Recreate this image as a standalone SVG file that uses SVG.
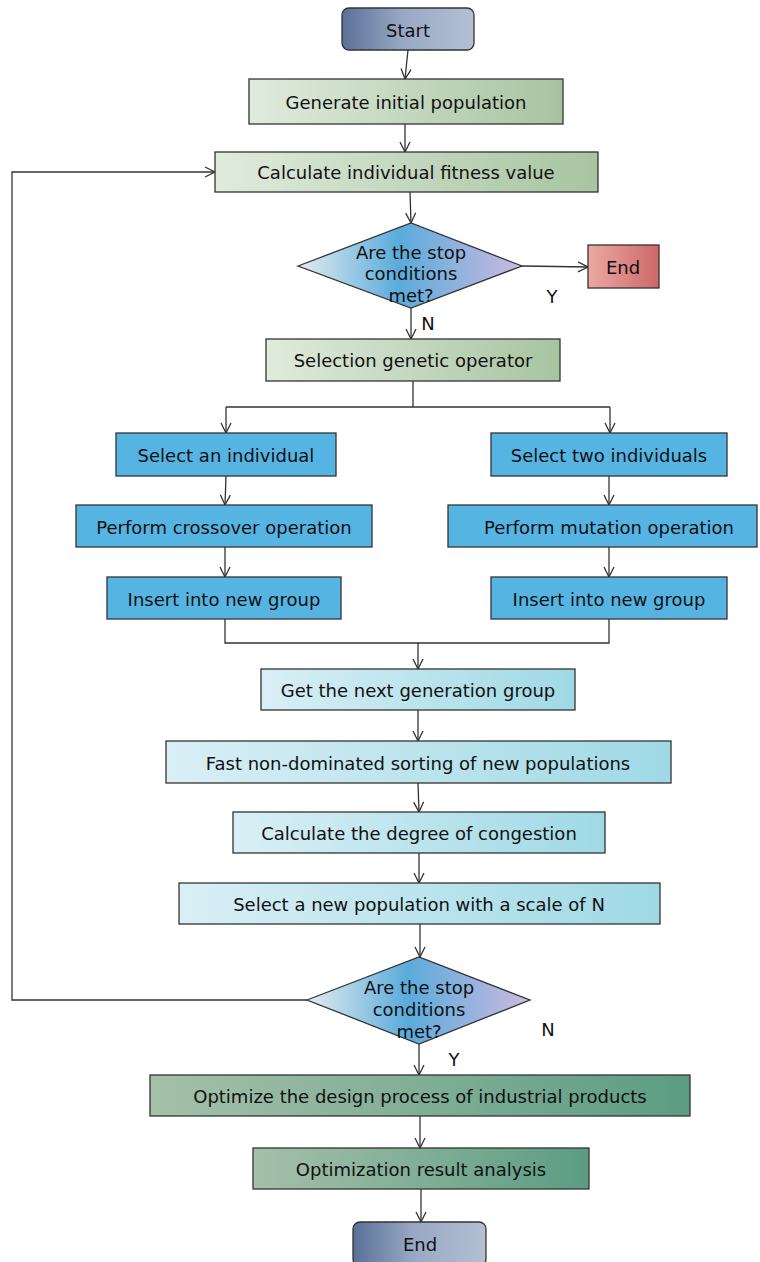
<svg xmlns="http://www.w3.org/2000/svg" width="760" height="1262" viewBox="0 0 760 1262">
<style>
text{font-family:"DejaVu Sans",Verdana,sans-serif;font-size:18px;fill:#111;text-anchor:middle;dominant-baseline:central}
.b{stroke:#333;stroke-width:1.3}
.c{fill:none;stroke:#333;stroke-width:1.3}
.a{marker-end:url(#arr)}
</style>
<defs>
<marker id="arr" viewBox="0 0 12 12" refX="11" refY="6" markerWidth="12" markerHeight="12" markerUnits="userSpaceOnUse" orient="auto">
<path d="M1,1 L11,6 L1,11" fill="none" stroke="#333" stroke-width="1.3"/>
</marker>
<linearGradient id="gTerm" x1="0" x2="1" y1="0" y2="0"><stop offset="0" stop-color="#5a7099"/><stop offset="0.45" stop-color="#98a8c4"/><stop offset="1" stop-color="#b4bfd4"/></linearGradient>
<linearGradient id="gGreen" x1="0" x2="1" y1="0" y2="0"><stop offset="0" stop-color="#e0ebdc"/><stop offset="1" stop-color="#a7c4a1"/></linearGradient>
<linearGradient id="gRed" x1="0" x2="1" y1="0" y2="0"><stop offset="0" stop-color="#eaa9a2"/><stop offset="1" stop-color="#cd6868"/></linearGradient>
<linearGradient id="gDia" x1="0" x2="1" y1="0" y2="0"><stop offset="0" stop-color="#e4ecf0"/><stop offset="0.45" stop-color="#5aabdb"/><stop offset="1" stop-color="#cdb9e0"/></linearGradient>
<linearGradient id="gCyan" x1="0" x2="1" y1="0" y2="0"><stop offset="0" stop-color="#d9eff5"/><stop offset="1" stop-color="#9fd9e5"/></linearGradient>
<linearGradient id="gDark" x1="0" x2="1" y1="0" y2="0"><stop offset="0" stop-color="#a5c0a9"/><stop offset="1" stop-color="#5c9c84"/></linearGradient>
</defs>

<g id="connectors">
<path class="c a" d="M408,50 L405,79"/>
<path class="c a" d="M405,124 L405,152"/>
<path class="c a" d="M410,192 L411,223"/>
<path class="c a" d="M522,266 L588,267"/>
<path class="c a" d="M411,308 L411,339"/>
<path class="c" d="M413,381 L413,407 M226,407 L610,407"/>
<path class="c a" d="M226,407 L226,433"/>
<path class="c a" d="M610,407 L610,433"/>
<path class="c a" d="M226,476 L225,505"/>
<path class="c a" d="M609,476 L609,505"/>
<path class="c a" d="M225,547 L225,577"/>
<path class="c a" d="M609,547 L609,577"/>
<path class="c" d="M225,619 L225,643 L609,643 L609,619"/>
<path class="c a" d="M418,643 L418,669"/>
<path class="c a" d="M418,710 L418,741"/>
<path class="c a" d="M418,783 L419,812"/>
<path class="c a" d="M419,853 L419,883"/>
<path class="c a" d="M420,924 L420,957"/>
<path class="c a" d="M307,1000 L12,1000 L12,172 L215,172"/>
<path class="c a" d="M419,1044 L419,1075"/>
<path class="c a" d="M420,1116 L420,1148"/>
<path class="c a" d="M421,1189 L421,1222"/>
<text x="552" y="296">Y</text>
<text x="428" y="323">N</text>
<text x="548" y="1029">N</text>
<text x="454" y="1059">Y</text>
</g>

<g id="start"><rect class="b" x="342" y="8" width="132" height="42" rx="7" fill="url(#gTerm)"/><text x="408" y="30">Start</text></g>
<g id="generate"><rect class="b" x="249" y="79" width="314" height="45" fill="url(#gGreen)"/><text x="406" y="102">Generate initial population</text></g>
<g id="fitness"><rect class="b" x="215" y="152" width="383" height="40" fill="url(#gGreen)"/><text x="406" y="172">Calculate individual fitness value</text></g>
<g id="decision1"><polygon class="b" points="298,266 411,223 522,266 411,308" fill="url(#gDia)"/><text x="411" y="252">Are the stop</text><text x="411" y="273">conditions</text><text x="411" y="295">met?</text></g>
<g id="end1"><rect class="b" x="588" y="245" width="71" height="43" fill="url(#gRed)"/><text x="623" y="267">End</text></g>
<g id="selection"><rect class="b" x="266" y="339" width="294" height="42" fill="url(#gGreen)"/><text x="413" y="360">Selection genetic operator</text></g>
<g id="selectOne"><rect class="b" x="116" y="433" width="220" height="43" fill="#56b4e3"/><text x="226" y="455">Select an individual</text></g>
<g id="selectTwo"><rect class="b" x="491" y="433" width="236" height="43" fill="#56b4e3"/><text x="609" y="455">Select two individuals</text></g>
<g id="crossover"><rect class="b" x="76" y="505" width="296" height="42" fill="#56b4e3"/><text x="224" y="527">Perform crossover operation</text></g>
<g id="mutation"><rect class="b" x="448" y="505" width="309" height="42" fill="#56b4e3"/><text x="609" y="527">Perform mutation operation</text></g>
<g id="insertLeft"><rect class="b" x="107" y="577" width="234" height="42" fill="#56b4e3"/><text x="224" y="599">Insert into new group</text></g>
<g id="insertRight"><rect class="b" x="491" y="577" width="236" height="42" fill="#56b4e3"/><text x="609" y="599">Insert into new group</text></g>
<g id="nextGen"><rect class="b" x="261" y="669" width="314" height="41" fill="url(#gCyan)"/><text x="418" y="690">Get the next generation group</text></g>
<g id="sorting"><rect class="b" x="166" y="741" width="505" height="42" fill="url(#gCyan)"/><text x="418" y="763">Fast non-dominated sorting of new populations</text></g>
<g id="congestion"><rect class="b" x="233" y="812" width="372" height="41" fill="url(#gCyan)"/><text x="419" y="833">Calculate the degree of congestion</text></g>
<g id="selectNew"><rect class="b" x="179" y="883" width="481" height="41" fill="url(#gCyan)"/><text x="419" y="904">Select a new population with a scale of N</text></g>
<g id="decision2"><polygon class="b" points="307,1000 419,957 530,1000 419,1044" fill="url(#gDia)"/><text x="419" y="987">Are the stop</text><text x="419" y="1009">conditions</text><text x="419" y="1031">met?</text></g>
<g id="optimize"><rect class="b" x="150" y="1075" width="540" height="41" fill="url(#gDark)"/><text x="420" y="1096">Optimize the design process of industrial products</text></g>
<g id="analysis"><rect class="b" x="253" y="1148" width="336" height="41" fill="url(#gDark)"/><text x="421" y="1169">Optimization result analysis</text></g>
<g id="end2"><rect class="b" x="353" y="1222" width="133" height="44" rx="7" fill="url(#gTerm)"/><text x="420" y="1244">End</text></g>
</svg>
